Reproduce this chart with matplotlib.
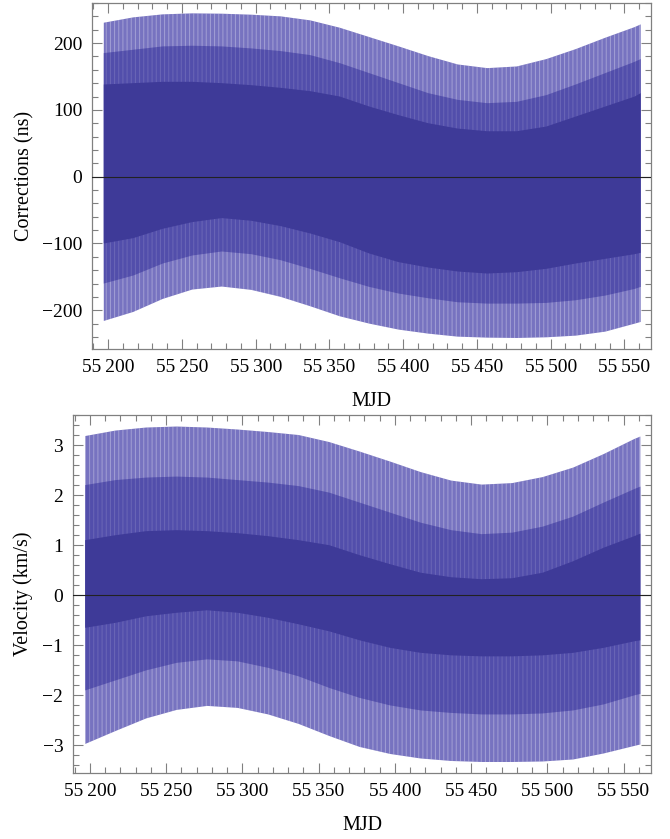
import matplotlib
matplotlib.use("Agg")
import matplotlib.pyplot as plt
from matplotlib.ticker import MultipleLocator, FuncFormatter

# envelope knots (MJD)
MJD = [55197, 55217, 55237, 55257, 55277, 55297, 55317, 55337, 55357, 55377,
       55397, 55417, 55437, 55457, 55477, 55497, 55517, 55537, 55557, 55561]

# corrections (ns): outer envelope, medium band, dark core
CORR_UP = [230.5, 238.5, 243, 244.5, 244, 242.5, 240, 234, 223, 209,
           195, 180.5, 168, 162.5, 165, 176, 191, 208, 224, 228]
CORR_LO = [-216, -202.5, -183, -169, -164.5, -169.5, -180, -194, -209, -220,
           -229, -235, -239.5, -241, -241.5, -240.5, -238, -232, -220, -217.5]
CORR_MID_UP = [185, 190, 195, 196, 195, 192, 188, 182, 170, 155,
               140, 125, 115, 110, 112, 122, 138, 155, 172, 176]
CORR_MID_LO = [-160, -148, -130, -118, -112, -116, -125, -138, -152, -165,
               -175, -182, -188, -190, -190, -189, -185, -178, -168, -165]
CORR_CORE_UP = [138, 140, 142, 142, 140, 137, 133, 128, 120, 105,
                92, 80, 72, 68, 68, 75, 90, 105, 120, 125]
CORR_CORE_LO = [-100, -92, -78, -68, -62, -66, -74, -85, -98, -115,
                -128, -136, -142, -145, -143, -138, -130, -123, -116, -114]

# velocity (km/s)
VEL_UP = [3.18, 3.29, 3.35, 3.37, 3.35, 3.31, 3.26, 3.20, 3.06, 2.87,
          2.67, 2.46, 2.29, 2.21, 2.24, 2.36, 2.55, 2.82, 3.12, 3.17]
VEL_LO = [-2.97, -2.71, -2.46, -2.29, -2.21, -2.25, -2.38, -2.57, -2.81, -3.03,
          -3.17, -3.26, -3.31, -3.33, -3.33, -3.32, -3.28, -3.16, -3.01, -2.98]
VEL_MID_UP = [2.2, 2.3, 2.35, 2.37, 2.35, 2.3, 2.25, 2.18, 2.05, 1.85,
              1.65, 1.45, 1.3, 1.22, 1.25, 1.37, 1.57, 1.85, 2.12, 2.17]
VEL_MID_LO = [-1.9, -1.7, -1.5, -1.35, -1.28, -1.32, -1.45, -1.62, -1.85, -2.05,
              -2.2, -2.3, -2.35, -2.38, -2.38, -2.36, -2.3, -2.18, -2.0, -1.97]
VEL_CORE_UP = [1.1, 1.2, 1.28, 1.3, 1.28, 1.24, 1.18, 1.1, 1.0, 0.8,
               0.62, 0.45, 0.36, 0.32, 0.34, 0.45, 0.68, 0.95, 1.18, 1.23]
VEL_CORE_LO = [-0.65, -0.55, -0.42, -0.35, -0.3, -0.35, -0.45, -0.58, -0.72, -0.9,
               -1.05, -1.15, -1.2, -1.22, -1.22, -1.2, -1.15, -1.05, -0.92, -0.9]

LIGHT = "#7773c0"
MEDIUM = "#524eab"
DARK = "#3e3a98"
FRAME = "#808080"

plt.rcParams["font.family"] = ["Liberation Serif", "DejaVu Serif"]
plt.rcParams["hatch.linewidth"] = 0.7

W, H = 670, 839
fig = plt.figure(figsize=(W / 100, H / 100), dpi=100)


def px_axes(left, top, right, bottom):
    return fig.add_axes([left / W, 1 - bottom / H, (right - left) / W, (bottom - top) / H])


def mjd_fmt(v, pos):
    s = "%d" % v
    return s[:2] + "\u2009" + s[2:]


def int_fmt(v, pos):
    return ("%d" % v).replace("-", "\u2212")


def draw_panel(ax, up, lo, mid_up, mid_lo, core_up, core_lo, ylim, major, minor):
    ax.fill_between(MJD, lo, up, facecolor=LIGHT, edgecolor=(1, 1, 1, 0.32),
                    hatch="||||", linewidth=0, zorder=1)
    ax.fill_between(MJD, mid_lo, mid_up, facecolor=MEDIUM, edgecolor=(1, 1, 1, 0.14),
                    hatch="||||", linewidth=0, zorder=2)
    ax.fill_between(MJD, core_lo, core_up, facecolor=DARK, linewidth=0, zorder=3)
    ax.axhline(0, color="#222222", lw=0.8, zorder=4)
    ax.set_xlim(55189, 55568)
    ax.set_ylim(*ylim)
    ax.xaxis.set_major_locator(MultipleLocator(50))
    ax.xaxis.set_minor_locator(MultipleLocator(10))
    ax.yaxis.set_major_locator(MultipleLocator(major))
    ax.yaxis.set_minor_locator(MultipleLocator(minor))
    ax.xaxis.set_major_formatter(FuncFormatter(mjd_fmt))
    ax.yaxis.set_major_formatter(FuncFormatter(int_fmt))
    ax.tick_params(which="both", direction="in", top=True, right=True,
                   color=FRAME, labelsize=14, width=0.8)
    ax.tick_params(which="major", length=7, pad=7)
    ax.tick_params(which="minor", length=4)
    for sp in ax.spines.values():
        sp.set_color(FRAME)
        sp.set_linewidth(0.9)


ax1 = px_axes(92, 3, 651, 349)
draw_panel(ax1, CORR_UP, CORR_LO, CORR_MID_UP, CORR_MID_LO, CORR_CORE_UP, CORR_CORE_LO,
           (-258, 260), 100, 20)
ax1.set_ylabel("Corrections (ns)", fontsize=14.5, labelpad=5)
ax1.set_xlabel("MJD", fontsize=14.5, labelpad=12)

ax2 = px_axes(73, 415, 651, 773)
draw_panel(ax2, VEL_UP, VEL_LO, VEL_MID_UP, VEL_MID_LO, VEL_CORE_UP, VEL_CORE_LO,
           (-3.55, 3.6), 1, 0.2)
ax2.set_ylabel("Velocity (km/s)", fontsize=14.5, labelpad=7)
ax2.set_xlabel("MJD", fontsize=14.5, labelpad=12)

fig.savefig("out.png", dpi=100)
